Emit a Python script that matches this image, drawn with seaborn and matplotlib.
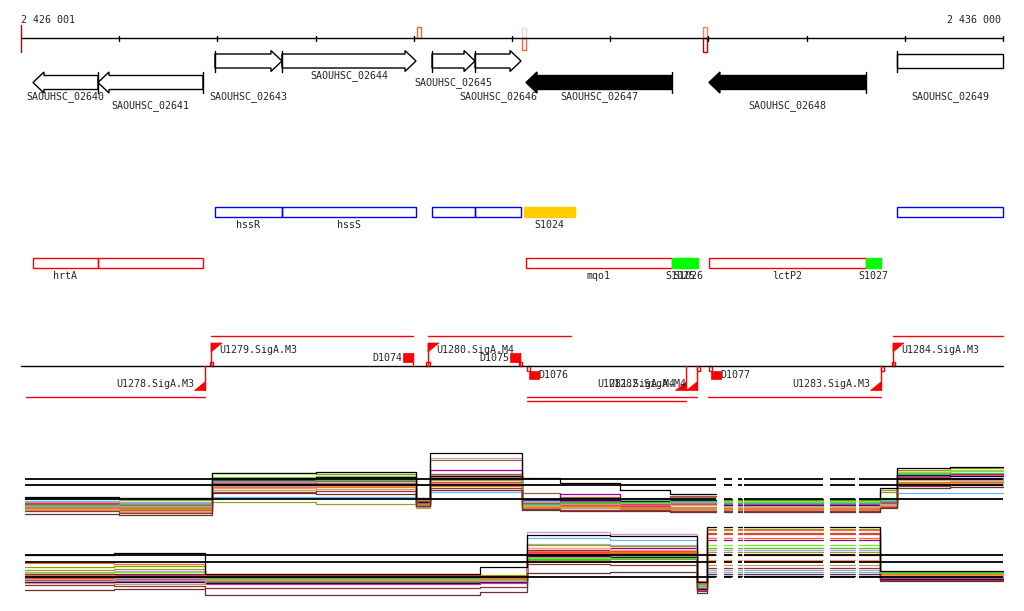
import numpy as np
import pandas as pd
import matplotlib
matplotlib.use("Agg")
import matplotlib.pyplot as plt
from matplotlib.patches import Polygon, Rectangle
import seaborn as sns

sns.set_style("white")
plt.rcParams["font.family"] = ["DejaVu Sans Mono", "DejaVu Sans"]

# --- window shown in the browser ---
start_pos = 2426001
end_pos = 2436000

# --- CDS annotation ---
gene_names = ["SAOUHSC_02640", "SAOUHSC_02641", "SAOUHSC_02643", "SAOUHSC_02644",
              "SAOUHSC_02645", "SAOUHSC_02646", "SAOUHSC_02647", "SAOUHSC_02648",
              "SAOUHSC_02649"]
gene_start = [2426123, 2426785, 2427976, 2428658, 2430186, 2430624, 2431143, 2433006, 2434920]
gene_end = [2426785, 2427854, 2428658, 2430023, 2430624, 2431092, 2432629, 2434605, 2436400]
gene_strand = ["-", "-", "+", "+", "+", "+", "-", "-", "+"]
gene_filled = [False, False, False, False, False, False, True, True, False]
gene_label_y = [97, 106, 97, 76, 83, 97, 97, 106, 97]

# --- operons / regulators (blue) and sRNA (orange) ---
blue_start = [2427976, 2428658, 2430186, 2430624, 2434920]
blue_end = [2428658, 2430023, 2430624, 2431092, 2436400]
blue_names = ["hssR", "hssS", "", "", ""]
srna1_start, srna1_end, srna1_name = [2431123], [2431642], ["S1024"]

# --- red track: genes of interest and green sRNA ---
red_start = [2426123, 2426785, 2431143, 2433006]
red_end = [2426785, 2427854, 2432629, 2434605]
red_names = ["hrtA", "", "mqo1", "lctP2"]
green_start = [2432629, 2432700, 2434605]
green_end = [2432810, 2432894, 2434757]
green_names = ["S1025", "S1026", "S1027"]

# --- transcription units ---
tu_start = [2427936, 2430145, 2434880, 2426052, 2431153, 2431153, 2432996]
tu_end = [2429992, 2431601, 2436400, 2427875, 2432884, 2432772, 2434757]
tu_strand = ["+", "+", "+", "-", "-", "-", "-"]
tu_row = [0, 0, 0, 0, 0, 1, 0]

prom_names = ["U1278.SigA.M3", "U1279.SigA.M3", "U1280.SigA.M4", "U1281.SigA.M4",
              "U1282.SigA.M4", "U1283.SigA.M3", "U1284.SigA.M3"]
prom_pos = [2427875, 2427936, 2430145, 2432772, 2432884, 2434757, 2434880]
prom_strand = ["-", "+", "+", "-", "-", "-", "+"]
prom_box = [False, True, True, False, True, True, True]

term_names = ["D1074", "D1075", "D1076", "D1077"]
term_pos = [2429992, 2431082, 2431153, 2433006]
term_strand = ["+", "+", "-", "-"]
term_box = [False, True, True, True]

# --- marks on the ruler ---
mark_start = [2430033, 2431102, 2432945]
mark_end = [2430074, 2431143, 2432986]

# --- expression tracks ---
coverage = [(2426042, 2433078), (2433159, 2433240), (2433301, 2433342),
            (2433362, 2434167), (2434238, 2434493), (2434534, 2436000)]
probe_colors = ["#999900", "#cc99cc", "#996633", "#990099", "#66ff00", "#ff6633",
                "#66bbff", "#999933", "#ff3333", "#000066", "#ff9966", "#cc3399",
                "#cc9966", "#aaaaaa", "#993333", "#33cc33", "#ee7722", "#663333",
                "#000000"]

top_edges = [2426042, 2427000, 2427946, 2429000, 2430023, 2430165, 2431102,
             2431489, 2432100, 2432609, 2433078, 2434748, 2434920, 2435460, 2436000]
top_levels = [
    [31, 30, 57, 56, 30, 50, 30, 28, 31, 33, 30, 40, 60, 62],
    [28, 27, 48, 50, 28, 72, 29, 31, 32, 30, 28, 30, 57, 59],
    [22, 20, 45, 47, 25, 70, 37, 33, 28, 27, 24, 28, 54, 56],
    [26, 24, 50, 49, 27, 60, 30, 36, 27, 29, 27, 29, 58, 56],
    [32, 31, 53, 54, 31, 55, 28, 27, 30, 31, 29, 32, 58, 60],
    [24, 23, 51, 52, 26, 53, 27, 24, 25, 27, 22, 27, 53, 55],
    [29, 28, 33, 33, 28, 38, 29, 30, 29, 28, 28, 30, 37, 37],
    [23, 22, 28, 26, 24, 50, 22, 20, 23, 21, 21, 38, 48, 49],
    [27, 26, 46, 45, 29, 48, 26, 25, 24, 26, 26, 27, 52, 51],
    [25, 25, 52, 53, 28, 54, 31, 30, 29, 30, 25, 26, 55, 54],
    [21, 19, 42, 44, 23, 45, 24, 23, 22, 20, 23, 25, 50, 49],
    [26, 25, 47, 49, 27, 56, 27, 29, 26, 34, 26, 28, 53, 52],
    [20, 18, 40, 41, 22, 47, 23, 22, 21, 22, 20, 24, 46, 47],
    [24, 24, 44, 46, 25, 51, 25, 26, 27, 25, 24, 26, 51, 50],
    [19, 17, 38, 39, 24, 42, 21, 20, 20, 19, 19, 23, 44, 45],
    [25, 26, 49, 50, 26, 52, 26, 27, 28, 29, 27, 29, 56, 57],
    [22, 21, 43, 43, 25, 44, 23, 24, 22, 23, 21, 24, 47, 48],
    [16, 15, 37, 36, 24, 40, 20, 19, 19, 18, 18, 22, 42, 43],
    [33, 32, 57, 58, 32, 77, 52, 47, 40, 36, 31, 42, 62, 63],
]
top_ref = [51, 45, 31]

bot_edges = [2426042, 2426950, 2427875, 2430674, 2431153, 2432000, 2432884,
             2432986, 2434748, 2436000]
bot_levels = [
    [33, 34, 24, 25, 55, 54, 16, 71, 28],
    [28, 29, 22, 23, 68, 66, 14, 50, 27],
    [24, 25, 18, 20, 45, 47, 12, 67, 25],
    [26, 26, 21, 22, 50, 52, 15, 60, 26],
    [27, 28, 24, 24, 42, 44, 17, 55, 27],
    [25, 24, 23, 22, 47, 46, 19, 70, 24],
    [23, 22, 20, 21, 62, 60, 14, 28, 22],
    [30, 31, 19, 21, 40, 39, 13, 48, 23],
    [22, 21, 25, 24, 48, 49, 18, 66, 26],
    [18, 18, 17, 18, 44, 43, 11, 24, 21],
    [21, 20, 22, 23, 52, 50, 16, 40, 25],
    [20, 19, 16, 17, 46, 45, 10, 45, 22],
    [17, 16, 20, 19, 43, 42, 13, 35, 24],
    [19, 20, 21, 20, 56, 55, 15, 30, 23],
    [15, 14, 12, 13, 36, 35, 9, 32, 20],
    [24, 23, 22, 23, 41, 41, 16, 52, 28],
    [37, 36, 23, 22, 49, 48, 17, 62, 26],
    [10, 11, 5, 8, 27, 28, 7, 26, 19],
    [45, 47, 26, 33, 65, 64, 18, 73, 29],
]
bot_ref = [45, 38, 23]

# ---------------------------------------------------------------
bpp = (end_pos - start_pos) / 982.0          # bp per pixel
xlim = (start_pos - 21 * bpp, end_pos + 21 * bpp)
RED = "#ff0000"
FS = 7.2

fig = plt.figure(figsize=(10.24, 6.11), dpi=100)
ax = fig.add_axes([0, 0, 1, 1])
ax.set_xlim(*xlim)
ax.set_ylim(611, 0)
ax.axis("off")

def clip(a, b):
    return max(a, start_pos), min(b, end_pos)

# ruler
ax.plot([start_pos, end_pos], [38, 38], color="black", lw=1)
for t in list(range(start_pos + 1000, end_pos, 1000)) + [end_pos]:
    ax.plot([t, t], [35.5, 40.5], color="black", lw=1)
ax.plot([start_pos, start_pos], [25, 52], color="#bb0000", lw=1)
ax.text(start_pos, 20, f"{start_pos:,}".replace(",", " "), fontsize=FS, va="center", ha="left")
ax.text(end_pos - 2 * bpp, 20, f"{end_pos:,}".replace(",", " "), fontsize=FS, va="center", ha="right")
mark_cols = [[("#ff6040", 27, 38)],
             [("#ffd8c8", 28, 38), ("#ff6040", 38, 50)],
             [("#ff8060", 27, 38), ("#c00000", 38, 52)]]
for s, e, parts in zip(mark_start, mark_end, mark_cols):
    for c, y0, y1 in parts:
        ax.add_patch(Rectangle((s, y0), e - s, y1 - y0, fill=False, ec=c, lw=1))

# genes
for name, s, e, st, filled, ly in zip(gene_names, gene_start, gene_end, gene_strand,
                                      gene_filled, gene_label_y):
    yc = 61 if st == "+" else 82.5
    h, H = 7, 10.5
    hl = 11 * bpp
    s, e = clip(s, e)
    fc = "black" if filled else "white"
    truncated = (st == "+" and e >= end_pos) or (st == "-" and s <= start_pos)
    if truncated:
        pts = [(s, yc - h), (e, yc - h), (e, yc + h), (s, yc + h)]
    elif st == "+":
        pts = [(s, yc - h), (e - hl, yc - h), (e - hl, yc - H), (e, yc),
               (e - hl, yc + H), (e - hl, yc + h), (s, yc + h)]
    else:
        pts = [(e, yc - h), (s + hl, yc - h), (s + hl, yc - H), (s, yc),
               (s + hl, yc + H), (s + hl, yc + h), (e, yc + h)]
    ax.add_patch(Polygon(pts, closed=True, fc=fc, ec="black", lw=1, zorder=3))
    base = s if st == "+" else e
    ax.plot([base, base], [yc - H, yc + H], color="black", lw=1, zorder=3)
    ax.text((s + e) / 2, ly, name, fontsize=FS, ha="center", va="center")

# blue track + orange sRNA
for s, e, n in zip(blue_start, blue_end, blue_names):
    s, e = clip(s, e)
    ax.add_patch(Rectangle((s, 207), e - s, 10, fill=False, ec="#0000ff", lw=1))
    if n:
        ax.text((s + e) / 2, 225, n, fontsize=FS, ha="center", va="center")
for s, e, n in zip(srna1_start, srna1_end, srna1_name):
    ax.add_patch(Rectangle((s, 207), e - s, 10, fc="#ffcc00", ec="#ffcc00", lw=1))
    ax.text((s + e) / 2, 225, n, fontsize=FS, ha="center", va="center")

# red track + green sRNA
for s, e, n in zip(red_start, red_end, red_names):
    ax.add_patch(Rectangle((s, 258), e - s, 10, fill=False, ec=RED, lw=1))
    if n:
        ax.text((s + e) / 2, 276, n, fontsize=FS, ha="center", va="center")
for s, e, n in zip(green_start, green_end, green_names):
    ax.add_patch(Rectangle((s, 258), e - s, 10, fc="#00ff00", ec="#00ff00", lw=1, zorder=3))
    ax.text((s + e) / 2, 276, n, fontsize=FS, ha="center", va="center")

# transcription units
ax.plot([start_pos, end_pos], [366, 366], color="black", lw=1)
for s, e, st, r in zip(tu_start, tu_end, tu_strand, tu_row):
    s, e = clip(s, e)
    y = 336 if st == "+" else 397 + 4 * r
    ax.plot([s, e], [y, y], color=RED, lw=1)

for n, x, st, bx in zip(prom_names, prom_pos, prom_strand, prom_box):
    if st == "+":
        ax.plot([x, x], [366, 343], color=RED, lw=1)
        ax.add_patch(Polygon([(x, 343), (x + 11 * bpp, 343), (x, 352)], fc=RED, ec=RED, lw=0.5))
        ax.text(x + 8 * bpp, 350, n, fontsize=FS, ha="left", va="center")
        if bx:
            ax.add_patch(Rectangle((x - 1.5 * bpp, 362), 3.5 * bpp, 4, fill=False, ec=RED, lw=1))
    else:
        ax.plot([x, x], [366, 390], color=RED, lw=1)
        ax.add_patch(Polygon([(x, 381), (x, 390), (x - 11 * bpp, 390)], fc=RED, ec=RED, lw=0.5))
        ax.text(x - 11 * bpp, 384, n, fontsize=FS, ha="right", va="center")
        if bx:
            ax.add_patch(Rectangle((x, 366), 3.5 * bpp, 5, fill=False, ec=RED, lw=1))

for n, x, st, bx in zip(term_names, term_pos, term_strand, term_box):
    if st == "+":
        ax.add_patch(Rectangle((x - 10 * bpp, 353), 10 * bpp, 9, fc=RED, ec=RED, lw=0.5))
        ax.plot([x, x], [353, 366], color=RED, lw=1)
        ax.text(x - 11 * bpp, 358, n, fontsize=FS, ha="right", va="center")
        if bx:
            ax.add_patch(Rectangle((x - 1.5 * bpp, 362), 3.5 * bpp, 4, fill=False, ec=RED, lw=1))
    else:
        ax.add_patch(Rectangle((x + 2 * bpp, 371), 10 * bpp, 8, fc=RED, ec=RED, lw=0.5))
        ax.text(x + 11 * bpp, 375, n, fontsize=FS, ha="left", va="center")
        if bx:
            ax.add_patch(Rectangle((x, 366), 3.5 * bpp, 5, fill=False, ec=RED, lw=1))

# expression tracks
def track_frame(edges, levels):
    rows = []
    for i, lv in enumerate(levels):
        for k, (c0, c1) in enumerate(coverage):
            for a, b, v in zip(edges[:-1], edges[1:], lv):
                lo, hi = max(a, c0), min(b, c1)
                if lo < hi:
                    rows.append((lo, v, f"p{i:02d}", f"p{i:02d}-{k}"))
                    rows.append((hi, v, f"p{i:02d}", f"p{i:02d}-{k}"))
    return pd.DataFrame(rows, columns=["pos", "signal", "probe", "unit"])

for top_px, edges, levels, refs in [(530, top_edges, top_levels, top_ref),
                                    (600, bot_edges, bot_levels, bot_ref)]:
    tax = fig.add_axes([0, 1 - top_px / 611, 1, 90 / 611])
    tax.patch.set_alpha(0)
    df = track_frame(edges, levels)
    sns.lineplot(data=df, x="pos", y="signal", hue="probe", units="unit",
                 estimator=None, sort=False, palette=probe_colors,
                 legend=False, lw=0.9, ax=tax)
    for c0, c1 in coverage:
        tax.hlines(refs, c0, c1, color="black", lw=1.3, zorder=4)
    tax.set_xlim(*xlim)
    tax.set_ylim(0, 90)
    tax.axis("off")

fig.savefig("out.png", dpi=100)
